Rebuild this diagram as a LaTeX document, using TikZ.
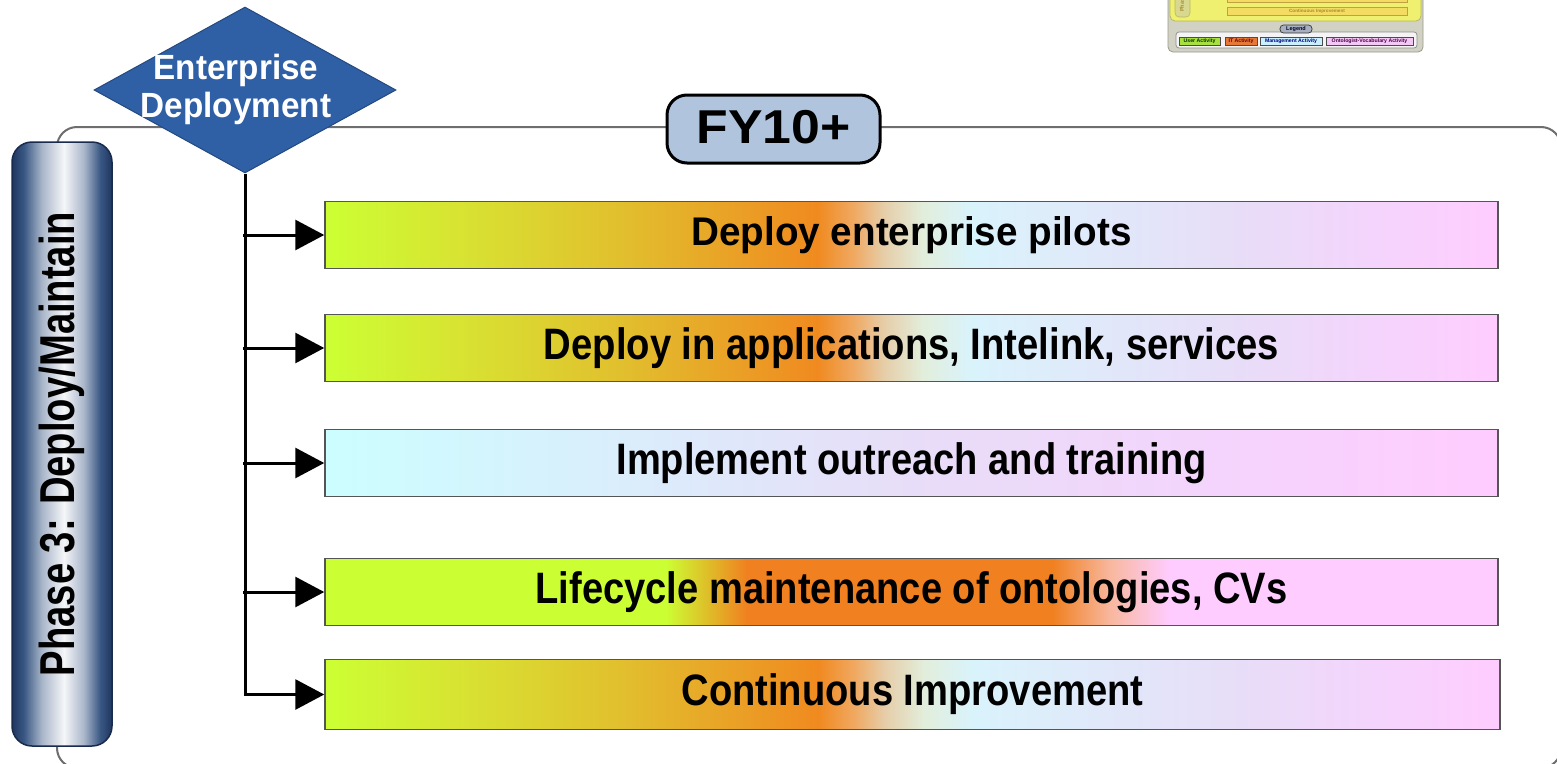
\documentclass[tikz,border=0pt]{standalone}
\usepackage{fontspec}
\usepackage{graphicx}
\setmainfont{Liberation Sans}
\usetikzlibrary{shapes.geometric,arrows.meta}

\definecolor{cgreen}{HTML}{CCFF33}
\definecolor{cyelo}{HTML}{D8E232}
\definecolor{cgold}{HTML}{E1C02E}
\definecolor{corange}{HTML}{F08A20}
\definecolor{clorange}{HTML}{F0A860}
\definecolor{ctan}{HTML}{E6CDA8}
\definecolor{cpale}{HTML}{E2EEDC}
\definecolor{ccyan}{HTML}{D9F3FB}
\definecolor{clav}{HTML}{E8DDF8}
\definecolor{cpink}{HTML}{FFCCFF}
\definecolor{ccyanl}{HTML}{CCFEFF}
\definecolor{corg}{HTML}{F08020}
\definecolor{csalmon}{HTML}{F8B8A0}
\definecolor{phdark}{HTML}{1E3660}
\definecolor{phmid}{HTML}{3A5884}
\definecolor{phlight}{HTML}{A9B6CA}
\definecolor{phwhite}{HTML}{F5F6F8}
\definecolor{diablue}{HTML}{2F5FA5}
\definecolor{diaedge}{HTML}{24497F}
\definecolor{fyfill}{HTML}{B1C4DE}
\definecolor{framec}{HTML}{6E6E6E}
\definecolor{barborder}{HTML}{555555}
\definecolor{thbg}{HTML}{D2D2C4}
\definecolor{thedge}{HTML}{9A9A8C}
\definecolor{thyel}{HTML}{F0F070}
\definecolor{thyelb}{HTML}{B8B860}
\definecolor{thbar}{HTML}{F4DC62}
\definecolor{thbarb}{HTML}{C0A040}
\definecolor{thbart}{HTML}{A88A30}
\definecolor{thpill}{HTML}{D8D890}
\definecolor{leggray}{HTML}{A8B0C0}
\definecolor{legbg}{HTML}{F4F4F4}
\definecolor{luser}{HTML}{A8E040}
\definecolor{lit}{HTML}{E87838}
\definecolor{lmgmt}{HTML}{C8F0FF}
\definecolor{lonto}{HTML}{F4C8F4}

\pgfdeclarehorizontalshading{mixgrad}{100bp}{color(0bp)=(cgreen); color(25bp)=(cgreen); color(31bp)=(cyelo); color(37.5bp)=(cgold); color(46bp)=(corange); color(47.5bp)=(clorange); color(48.8bp)=(ctan); color(50.5bp)=(cpale); color(52.5bp)=(ccyan); color(64bp)=(clav); color(75bp)=(cpink); color(100bp)=(cpink)}
\pgfdeclarehorizontalshading{mgmtgrad}{100bp}{color(0bp)=(ccyanl); color(25bp)=(ccyanl); color(50bp)=(clav); color(75bp)=(cpink); color(100bp)=(cpink)}
\pgfdeclarehorizontalshading{lifegrad}{100bp}{color(0bp)=(cgreen); color(25bp)=(cgreen); color(39.5bp)=(cgreen); color(43bp)=(corg); color(56bp)=(corg); color(58.5bp)=(csalmon); color(61bp)=(cpink); color(75bp)=(cpink); color(100bp)=(cpink)}
\pgfdeclarehorizontalshading{phgrad}{100bp}{color(0bp)=(phdark); color(25bp)=(phdark); color(31bp)=(phmid); color(40bp)=(phlight); color(51bp)=(phwhite); color(61bp)=(phlight); color(69bp)=(phmid); color(75bp)=(phdark); color(100bp)=(phdark)}

\newcommand{\bartext}[3]{{\fontsize{#1}{#1}\selectfont\bfseries\scalebox{#2}[1]{#3}}}

\begin{document}
\begin{tikzpicture}[x=1pt,y=-1pt,
  frameline/.style={draw=framec, line width=2pt, rounded corners=20pt},
  phasebar/.style={draw=phdark!80!black, line width=1.5pt, rounded corners=20pt, shading=phgrad, minimum width=100pt, minimum height=604pt, inner sep=0pt},
  dia/.style={diamond, fill=diablue, draw=diaedge, line width=1pt, minimum width=302pt, minimum height=166pt, inner sep=0pt},
  diatext/.style={text=white, align=center, font=\fontsize{35}{38}\selectfont\bfseries, inner sep=0pt},
  fybox/.style={draw=black, line width=3pt, fill=fyfill, rounded corners=20pt, minimum width=213pt, minimum height=68pt, inner sep=0pt, text height=34.6pt, text depth=6pt, font=\fontsize{47.5}{47.5}\selectfont\bfseries},
  barbox/.style={draw=barborder, line width=1.5pt, minimum width=1173pt, minimum height=67pt, inner sep=0pt},
  conn/.style={draw=black, line width=3pt},
  arr/.style={conn, -{Triangle[length=29pt,width=30pt]}},
  thbarst/.style={draw=thbarb, fill=thbar, line width=0.6pt, minimum width=180pt, inner sep=0pt, text=thbart, font=\fontsize{4.6}{5}\selectfont\bfseries},
  legbox/.style={draw=black!70, line width=0.6pt, minimum height=8pt, inner sep=0pt, font=\fontsize{5.2}{5.5}\selectfont\bfseries},
]
\useasboundingbox (0,0) rectangle (1557,763);
\fill[white] (0,0) rectangle (1557,763);

% outer frame
\draw[frameline] (57,127) rectangle (1561,768);

% phase bar
\node[phasebar] (ph) at (62,444) {};
\node[rotate=90, inner sep=0pt] (phtext) at (ph.center) {\bartext{49}{0.78}{Phase 3: Deploy/Maintain}};

% FY10+ box
\node[fybox] (fy) at (773.5,129) {\scalebox{1.09}[1]{FY10+}};

% diamond
\node[dia] (ed) at (245,90) {};
\node[diatext] (edtext) at (236,89) {\scalebox{0.95}[1]{Enterprise}\\\scalebox{0.95}[1]{Deployment}};

% bars
\node[barbox, shading=mixgrad] (b1) at (911.5,235) {\bartext{40}{0.966}{Deploy enterprise pilots}};
\node[barbox, shading=mixgrad] (b2) at (911.5,348) {\bartext{44}{0.869}{Deploy in applications, Intelink, services}};
\node[barbox, shading=mgmtgrad] (b3) at (911.5,463) {\bartext{44}{0.865}{Implement outreach and training}};
\node[barbox, shading=lifegrad] (b4) at (911.5,592) {\bartext{44}{0.866}{Lifecycle maintenance of ontologies, CVs}};
\node[barbox, shading=mixgrad, minimum height=70pt, minimum width=1175pt] (b5) at (912.5,694.5) {\bartext{44}{0.867}{Continuous Improvement}};

% connectors
\draw[arr] (ed.south) |- (b5.west);
\draw[arr] ([xshift=-2pt]ed.south |- b1.west) -- (b1.west);
\draw[arr] ([xshift=-2pt]ed.south |- b2.west) -- (b2.west);
\draw[arr] ([xshift=-2pt]ed.south |- b3.west) -- (b3.west);
\draw[arr] ([xshift=-2pt]ed.south |- b4.west) -- (b4.west);

% thumbnail of the full slide (top right)
\draw[draw=thedge, fill=thbg, line width=0.8pt, rounded corners=5pt] (1168,-30) rectangle (1423,52);
\draw[draw=thyelb, fill=thyel, line width=0.8pt, rounded corners=5pt] (1170,-30) rectangle (1421,21);
\node[draw=thyelb, fill=thpill, line width=0.6pt, rounded corners=4pt, minimum width=15pt, minimum height=47pt, inner sep=0pt] (tph) at (1182.5,-6.5) {};
\node[rotate=90, anchor=west, inner sep=0pt, text=thbart, font=\fontsize{5.5}{6}\selectfont\bfseries] (tphtext) at (1182.5,12) {Phase 3: Deploy/Maintain};
\node[thbarst, minimum height=9pt] (tb4) at (1317,-2) {Lifecycle maintenance of ontologies, CVs};
\node[thbarst, minimum height=8pt] (tb5) at (1317,11) {Continuous Improvement};
\draw[draw=black!45, fill=legbg, line width=0.7pt, rounded corners=3pt] (1176,32) rectangle (1417,48);
\node[draw=black!80, fill=leggray, line width=0.7pt, rounded corners=3.5pt, minimum width=32pt, minimum height=8pt, inner sep=0pt, text=black!85!blue, font=\fontsize{5.5}{6}\selectfont\bfseries] (leg) at (1296,29) {Legend};
\node[legbox, fill=luser, minimum width=41pt, text=black!80!green] (lu) at (1199.5,41) {User Activity};
\node[legbox, fill=lit, minimum width=32pt, text=red!40!black] (li) at (1241,41) {IT Activity};
\node[legbox, fill=lmgmt, minimum width=62pt, text=blue!50!black] (lm) at (1291,41) {Management Activity};
\node[legbox, fill=lonto, minimum width=87pt, text=violet!60!black] (lo) at (1369.5,41) {Ontologist-Vocabulary Activity};
\end{tikzpicture}
\end{document}
